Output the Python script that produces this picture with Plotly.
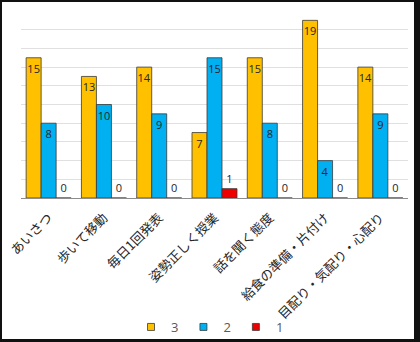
import plotly.graph_objects as go

categories = ["あいさつ", "歩いて移動", "毎日1回発表", "姿勢正しく授業", "話を聞く態度", "給食の準備・片付け", "目配り・気配り・心配り"]
series_names = ["3", "2", "1"]
values_3 = [15, 13, 14, 7, 15, 19, 14]
values_2 = [8, 10, 9, 15, 8, 4, 9]
values_1 = [0, 0, 0, 1, 0, 0, 0]
colors = ["#FFC000", "#00B0F0", "#EE0000"]

W, H = 420, 342
ml, mr, mt, mb = 21, 12, 11, 144

fig = go.Figure()
for name, vals, col in zip(series_names, [values_3, values_2, values_1], colors):
    fig.add_trace(go.Bar(
        name=name, x=categories, y=vals,
        marker=dict(color=col, line=dict(color="#3a3a3a", width=0.8)),
        text=[str(v) for v in vals],
        textposition=["outside" if v <= 1 else "inside" for v in vals],
        insidetextanchor="end",
        textangle=0,
        textfont=dict(family="Open Sans", size=11, color="#262626"),
        cliponaxis=False,
        showlegend=False,
    ))
    # compact legend swatch (small square like the original)
    fig.add_trace(go.Scatter(
        name=name, x=[None], y=[None], mode="markers",
        marker=dict(symbol="square", size=7, color=col, line=dict(color="#3a3a3a", width=0.8)),
        showlegend=True, hoverinfo="skip",
    ))

pw = W - ml - mr
ph = H - mt - mb
# white card with dark border around it
fig.add_shape(type="rect", xref="paper", yref="paper", layer="below",
              x0=(2 - ml) / pw, x1=(414 - ml) / pw,
              y0=-(339 - mt - ph) / ph, y1=1 + (mt - 2) / ph,
              fillcolor="white", line=dict(width=0))

fig.update_layout(
    width=W, height=H,
    margin=dict(l=ml, r=mr, t=mt, b=mb, autoexpand=False),
    paper_bgcolor="#111111", plot_bgcolor="white",
    barmode="group", bargap=0.186, bargroupgap=0,
    uniformtext=dict(minsize=11, mode="show"),
    showlegend=True,
    legend=dict(orientation="h", x=0.5, xanchor="center", xref="container",
                y=(H - 327) / H, yanchor="middle", yref="container",
                font=dict(family="Open Sans", size=13, color="#595959"),
                itemwidth=30, itemsizing="trace", traceorder="normal", bgcolor="rgba(0,0,0,0)"),
    font=dict(family="Noto Sans CJK JP", color="#262626"),
)
fig.update_xaxes(tickangle=-45, tickfont=dict(family="Noto Sans CJK JP", size=13, color="#262626"),
                 showline=True, linecolor="#8c8c8c", linewidth=1, ticks="", showgrid=False,
                 automargin=False, ticklabelstandoff=6)
fig.update_yaxes(range=[0, 20], dtick=2, showticklabels=False, showgrid=True,
                 gridcolor="#e0e0e0", gridwidth=1, zeroline=False, showline=False,
                 automargin=False)

fig.write_html("out.html")
